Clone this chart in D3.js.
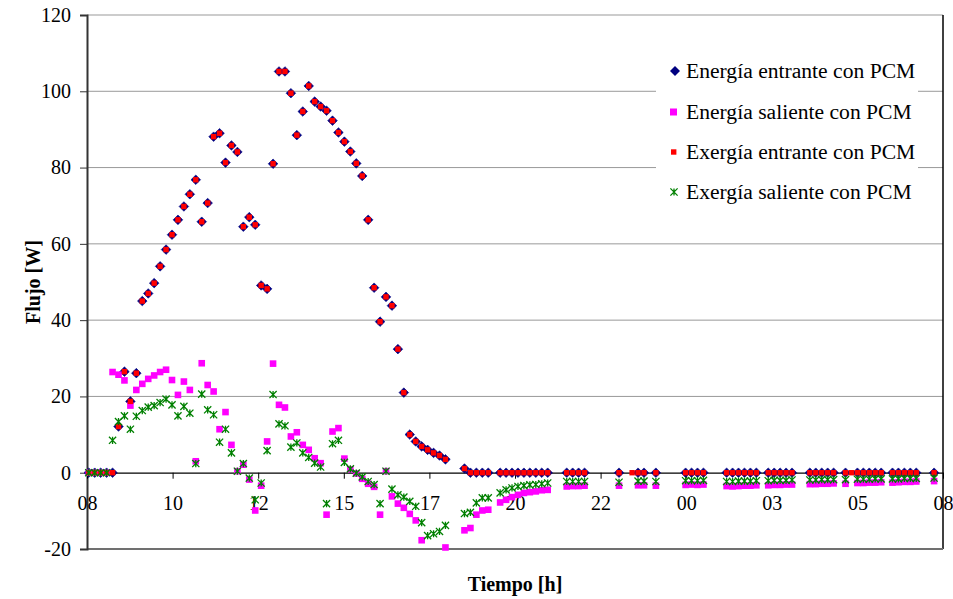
<!DOCTYPE html>
<html><head><meta charset="utf-8">
<script src="https://cdn.jsdelivr.net/npm/d3@7"></script>
<style>
html,body{margin:0;padding:0;background:#fff;}
text{font-family:"Liberation Serif","Times New Roman",serif;fill:#000;}
</style></head>
<body><svg id="chart" width="953" height="599"></svg>
<script>
// minutes after 08:00
const minutes = [3,13,23,33,43,53,63,73,83,93,103,113,123,133,143,153,163,173,183,193,203,213,223,233,243,253,263,273,283,293,303,313,323,333,343,353,363,373,383,393,403,413,423,433,443,453,463,473,483,493,503,513,523,533,543,553,563,573,583,593,603,
 635,645,655,665,675,695,705,715,725,735,745,755,765,775,807,817,827,837,895,
 917,927,937,957,1007,1017,1027,1037,1076,1086,1096,1106,1116,1126,1146,1156,1166,1176,1186,1216,1226,1236,1246,1256,1276,1286,1296,1306,1316,1326,1336,1355,1365,1375,1385,1395,1425];

const energiaEntrante = [0,0,0,0,0,12.1,26.5,18.7,26.1,45.0,47.0,49.7,54.1,58.5,62.4,66.3,69.8,73.0,76.8,65.8,70.7,
 88.1,89.0,81.3,85.8,84.1,64.5,67.0,65.0,49.1,48.2,81.0,105.2,105.2,99.5,88.5,94.7,101.4,97.3,96.0,94.9,
 92.3,89.2,86.8,84.2,81.1,77.8,66.3,48.5,39.6,46.1,43.8,32.4,21.0,10.0,8.2,6.9,6.0,5.2,4.5,3.5,
 1.1,0,0,0,0,0,0,0,0,0,0,0,0,0,0,0,0,0,0,
 null,0,0,0,0,0,0,0,0,0,0,0,0,0,0,0,0,0,0,0,0,0,0,0,0,null,0,0,0,0,0,0,0,0,0,0,0];

const energiaSaliente = [0,0,0,0,26.4,25.7,24.2,17.6,21.7,23.3,24.6,25.5,26.4,27.0,24.3,20.4,23.9,21.7,3.0,28.7,
 23.0,21.3,11.4,15.9,7.3,0.4,2.1,-1.8,-9.9,-3.4,8.2,28.6,17.8,17.1,9.5,10.6,7.3,6.0,3.8,2.5,
 -11.0,10.8,11.7,3.7,0.9,-0.2,-1.6,-2.9,-3.7,-11.0,0.4,-6.2,-8.1,-9.2,-10.8,-12.5,-17.7,null,null,null,-19.6,
 -15.1,-14.5,-11.0,-9.9,-9.7,-7.8,-7.1,-6.4,-5.8,-5.3,-5.1,-4.9,-4.6,-4.5,-3.6,-3.5,-3.5,-3.4,-3.4,
 null,-3.3,-3.3,-3.4,-3.2,-3.1,-3.2,-3.1,-3.5,-3.6,-3.5,-3.4,-3.4,-3.3,-3.3,-3.2,-3.2,-3.1,-3.1,
 -3.0,-3.0,-2.9,-2.9,-2.8,-2.9,null,-2.7,-2.7,-2.6,-2.6,-2.5,-2.6,-2.5,-2.4,-2.4,-2.3,-2.2];

const exergiaEntrante = [0,0,0,0,0,12.1,26.5,18.7,26.1,45.0,47.0,49.7,54.1,58.5,62.4,66.3,69.8,73.0,76.8,65.8,70.7,
 88.1,89.0,81.3,85.8,84.1,64.5,67.0,65.0,49.1,48.2,81.0,105.2,105.2,99.5,88.5,94.7,101.4,97.3,96.0,94.9,
 92.3,89.2,86.8,84.2,81.1,77.8,66.3,48.5,39.6,46.1,43.8,32.4,21.0,10.0,8.2,6.9,6.0,5.2,4.5,3.5,
 1.1,0,0,0,0,0,0,0,0,0,0,0,0,0,0,0,0,0,0,
 0,0,0,0,0,0,0,0,0,0,0,0,0,0,0,0,0,0,0,0,0,0,0,0,0,0,0,0,0,0,0,0,0,0,0,0,0];

const exergiaSaliente = [0,0,0,0,8.5,13.4,14.9,11.4,14.8,16.3,17.2,17.6,18.4,19.3,17.8,14.9,17.4,15.6,2.4,20.6,
 16.5,15.2,8.0,11.4,5.2,0.4,2.4,-1.4,-7.1,-2.7,5.8,20.5,12.8,12.3,6.7,7.8,5.2,4.0,2.5,1.5,
 -8.1,7.6,8.5,2.7,1.0,-0.1,-1.1,-2.3,-3.1,-8.1,0.4,-4.3,-5.8,-6.4,-7.5,-8.8,-13.1,-16.5,-16.0,-15.4,-13.8,
 -10.7,-10.4,-7.9,-6.6,-6.6,-5.3,-4.5,-4.0,-3.6,-3.4,-3.2,-3.1,-2.9,-2.7,-2.3,-2.3,-2.3,-2.3,-2.5,
 null,-2.2,-2.2,-2.3,-2.1,-2.1,-2.1,-2.0,-2.3,-2.3,-2.2,-2.2,-2.2,-2.1,-2.1,-2.0,-2.0,-2.0,-1.9,
 -1.9,-1.9,-1.8,-1.8,-1.8,-1.8,null,-1.7,-1.7,-1.7,-1.6,-1.6,-1.6,-1.6,-1.5,-1.5,-1.5,-1.4];

const xTickMinutes = [0,144,288,432,576,720,864,1008,1152,1296,1440];
const xTickLabels = ["08","10","12","15","17","20","22","00","03","05","08"];
const yTicks = [-20,0,20,40,60,80,100,120];
const seriesNames = ["Energía entrante con PCM","Energía saliente con PCM","Exergía entrante con PCM","Exergía saliente con PCM"];

const svg = d3.select("#chart");
const L = 87, R = 943, T = 15, B = 549;
const x = d3.scaleLinear().domain([0,1440]).range([L,R]);
const y = d3.scaleLinear().domain([-20,120]).range([B,T]);

// gridlines
svg.append("g").selectAll("line").data(yTicks.filter(d=>d>0)).join("line")
  .attr("x1",L).attr("x2",R).attr("y1",d=>y(d)).attr("y2",d=>y(d))
  .attr("stroke","#999").attr("stroke-width",1);

// plot border
svg.append("line").attr("x1",R).attr("x2",R).attr("y1",T).attr("y2",B).attr("stroke","#000").attr("stroke-width",1.5);
svg.append("line").attr("x1",L).attr("x2",R).attr("y1",B).attr("y2",B).attr("stroke","#707070").attr("stroke-width",2);

// y axis
const yAxis = svg.append("g").attr("transform",`translate(${L},0)`)
  .call(d3.axisLeft(y).tickValues(yTicks).tickFormat(d=>String(d)).tickSize(7).tickPadding(9));
yAxis.select(".domain").attr("stroke","#333").attr("stroke-width",2);
yAxis.selectAll(".tick line").attr("stroke","#333");
yAxis.selectAll("text").attr("font-size",20).attr("font-family","Liberation Serif").attr("fill","#000");

// x axis at zero
const xAxis = svg.append("g").attr("transform",`translate(0,${y(0)})`)
  .call(d3.axisBottom(x).tickValues(xTickMinutes).tickFormat((d,i)=>xTickLabels[i]).tickSize(6).tickSizeOuter(0));
xAxis.select(".domain").attr("stroke","#000").attr("stroke-width",1.2);
xAxis.selectAll(".tick line").attr("stroke","#000");
xAxis.selectAll("text").attr("font-size",20).attr("font-family","Liberation Serif").attr("fill","#000")
  .attr("y",23).attr("dy","0.71em");

const pts = (vals)=>minutes.map((m,i)=>({m, v:vals[i]})).filter(d=>d.v!==null && d.v!==undefined);

const diamond = (s)=>`M0,${-s}L${s},0L0,${s}L${-s},0Z`;
const g = svg.append("g");
// Energía entrante: navy diamonds
g.append("g").selectAll("path").data(pts(energiaEntrante)).join("path")
  .attr("d",diamond(4.8)).attr("transform",d=>`translate(${x(d.m)},${y(d.v)})`)
  .attr("fill","#000080").attr("stroke","#000080").attr("stroke-width",0.6);
// Energía saliente: magenta squares
g.append("g").selectAll("rect").data(pts(energiaSaliente)).join("rect")
  .attr("x",d=>x(d.m)-3.3).attr("y",d=>y(d.v)-3.3).attr("width",6.6).attr("height",6.6)
  .attr("fill","#FF00FF");
// Exergía entrante: red squares
g.append("g").selectAll("rect").data(pts(exergiaEntrante)).join("rect")
  .attr("x",d=>x(d.m)-2.7).attr("y",d=>y(d.v)-2.7).attr("width",5.4).attr("height",5.4)
  .attr("fill","#FF0000");
// Exergía saliente: green stars
const star = (s)=>`M${-s},${-s}L${s},${s}M${-s},${s}L${s},${-s}M0,${-s}L0,${s}`;
g.append("g").selectAll("path").data(pts(exergiaSaliente)).join("path")
  .attr("d",star(3.6)).attr("transform",d=>`translate(${x(d.m)},${y(d.v)})`)
  .attr("fill","none").attr("stroke","#008000").attr("stroke-width",1.3);

// legend
const lg = svg.append("g");
lg.append("rect").attr("x",656).attr("y",48).attr("width",262).attr("height",166).attr("fill","#fff");
const rows = [71,112,152,192];
seriesNames.forEach((name,i)=>{
  const cy = rows[i];
  if(i===0) lg.append("path").attr("d",diamond(5)).attr("transform",`translate(675,${cy})`).attr("fill","#000080");
  if(i===1) lg.append("rect").attr("x",670).attr("y",cy-3.5).attr("width",7).attr("height",7).attr("fill","#FF00FF");
  if(i===2) lg.append("rect").attr("x",671).attr("y",cy-2.7).attr("width",5.4).attr("height",5.4).attr("fill","#FF0000");
  if(i===3) lg.append("path").attr("d",star(3.6)).attr("transform",`translate(674,${cy})`).attr("fill","none").attr("stroke","#008000").attr("stroke-width",1.3);
  lg.append("text").attr("x",686).attr("y",cy+7).attr("font-size",21.6).text(name);
});

// axis titles
svg.append("text").attr("x",(L+R)/2).attr("y",591).attr("text-anchor","middle")
  .attr("font-size",20).attr("font-weight","bold").text("Tiempo [h]");
svg.append("text").attr("transform","translate(40,282) rotate(-90)").attr("text-anchor","middle")
  .attr("font-size",20).attr("font-weight","bold").text("Flujo [W]");
</script></body></html>
